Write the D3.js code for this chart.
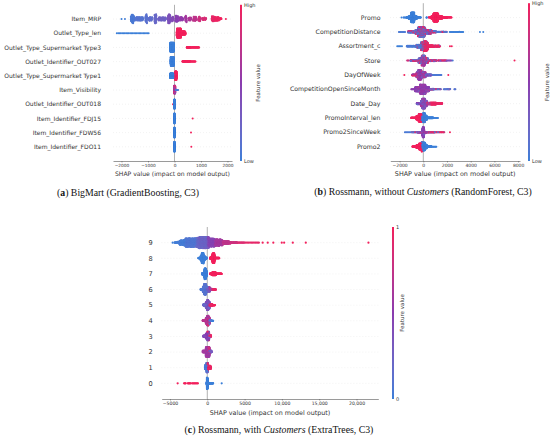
<!DOCTYPE html>
<html><head><meta charset="utf-8">
<script src="https://cdn.jsdelivr.net/npm/d3@7"></script>
<style>body{margin:0;background:#fff}svg{display:block}</style>
</head><body>
<svg id="chart" width="550" height="438"></svg>
<script>
// ---------------- DATA ----------------
// Each feature row: list of segments [fromShap, toShap, numberOfPoints, featureValue(0..1)]
const bigmartFeatures = ["Item_MRP","Outlet_Type_len","Outlet_Type_Supermarket Type3","Outlet_Identifier_OUT027",
  "Outlet_Type_Supermarket Type1","Item_Visibility","Outlet_Identifier_OUT018","Item_Identifier_FDJ15",
  "Item_Identifier_FDW56","Item_Identifier_FDO11"];
const bigmartSegments = [
  [[-2000,-2000,1,0],[-1870,-1870,1,0.02],[-1650,-1520,60,0.05],[-1480,-1180,60,0.1],[-1100,-1030,35,0.12],
   [-980,-840,30,0.15],[-760,-680,40,0.2],[-620,-320,55,0.25],[-260,-140,60,0.36],[-110,-40,18,0.42],
   [30,140,40,0.48],[180,330,30,0.53],[400,460,25,0.6],[520,640,22,0.65],[700,840,36,0.72],[900,990,25,0.8],
   [1040,1200,22,0.85],[1400,1500,30,0.93],[1500,1700,45,0.97],[1720,1780,6,1],[1940,1940,1,1]],
  [[-2200,-950,25,0],[80,250,200,1],[250,420,80,1]],
  [[-170,-20,300,0],[460,600,35,1],[600,935,35,1]],
  [[-150,-20,300,0],[295,600,55,1],[600,800,15,1]],
  [[-170,-40,250,0],[20,80,200,1]],
  [[-20,30,150,0.9],[-20,30,150,0.45],[45,120,30,0.05]],
  [[-57,-57,1,1],[-5,5,200,0]],
  [[-3,3,150,0],[686,686,1,1]],
  [[-3,3,150,0],[623,623,1,1]],
  [[-3,3,150,0],[635,635,1,1]]
];
const bigmartTicks = [-2000,-1000,0,1000,2000];

const rossmannFeatures = ["Promo","CompetitionDistance","Assortment_c","Store","DayOfWeek",
  "CompetitionOpenSinceMonth","Date_Day","PromoInterval_len","Promo2SinceWeek","Promo2"];
const rossmannSegments = [
  [[-1840,-1840,1,0],[-1700,-1550,3,0],[-1450,-1250,25,0],[-1250,-550,250,0],[-1050,-750,250,0],[-550,-200,20,0],
   [260,300,3,0],[430,650,8,1],[650,1600,300,1],[850,1250,280,1],[1600,2000,50,1],[2000,2400,15,1]],
  [[-2100,-1500,8,0.05],[-1300,-700,50,0.1],[-1300,-700,25,0.85],[-700,700,220,0.08],[-700,700,160,0.9],
   [-700,700,70,0.5],[-450,150,200,0.12],[-450,150,100,0.9],[700,1100,30,0.08],[700,1100,15,0.9],
   [1150,2000,25,0.05],[1300,2000,8,0.95],[2200,3400,18,0],[4780,4780,1,0],[5060,5060,1,0]],
  [[-2250,-1750,5,0],[-1400,-600,60,0.05],[-600,0,150,0.05],[-600,0,30,0.9],[-200,400,250,0.95],
   [-200,400,60,0.1],[0,300,100,0.95],[0,800,150,0.95],[800,1400,60,0.95],[800,1400,8,0.1],
   [2250,2250,1,1],[2400,2400,1,1]],
  [[-1400,-1200,3,0.8],[-1100,-400,40,0.2],[-1100,-400,30,0.85],[-400,400,150,0.1],[-400,400,160,0.9],
   [-400,400,70,0.5],[-150,150,150,0.6],[400,1100,45,0.3],[400,1100,35,0.9],[1200,2400,18,0.4],
   [1200,2000,12,0.95],[2480,2480,1,0.05],[7700,7700,1,1]],
  [[-1600,-1600,1,1],[-950,-600,25,0.9],[-950,-600,15,0.5],[-600,200,200,0.55],[-600,200,120,0.75],
   [-600,200,100,0.3],[-450,-150,150,0.5],[200,700,50,0.2],[200,700,15,0.5],[700,1550,18,0.05],[2110,2110,1,1]],
  [[-1040,-700,8,0.5],[-700,500,250,0.5],[-700,500,120,0.65],[-700,500,80,0.3],[-300,200,200,0.55],
   [500,900,25,0.2],[500,900,10,0.8],[900,1500,14,0.1],[1000,1500,5,0.85],[1700,2300,12,0.1],
   [2000,2300,3,0.8],[2600,2730,3,0.1]],
  [[-560,-200,50,0.5],[-560,-200,25,0.2],[-200,300,250,0.3],[-200,300,150,0.6],[-100,150,150,0.4],
   [300,600,50,0.8],[300,600,25,0.3],[600,1100,150,0.95],[1100,1600,60,0.95]],
  [[-1040,-600,30,1],[-600,-120,200,1],[-400,-150,120,0.95],[-140,300,220,0],[-50,150,100,0.05],
   [300,840,60,0],[900,1270,6,0]],
  [[-1600,-1000,7,0.05],[-1000,-500,12,0.1],[-1000,-500,4,0.85],[-500,-100,25,0.3],[-500,-100,12,0.7],
   [-80,80,200,0.5],[-80,80,80,0.3],[100,300,25,0.6],[300,1000,28,0.9],[300,1000,14,0.1],
   [1000,1800,14,0.95],[1000,1800,5,0.1],[2250,2250,1,1]],
  [[-930,-600,25,1],[-600,-100,180,1],[-350,-100,100,1],[-140,300,220,0],[-50,150,100,0],
   [300,700,50,0],[700,1130,8,0]]
];
const rossmannTicks = [-2000,0,2000,4000,6000,8000];

const customersFeatures = ["9","8","7","6","5","4","3","2","1","0"];
const customersSegments = [
  [[-4640,-4640,1,0],[-4400,-3800,15,0.02],[-3800,-3000,150,0.03],[-3000,-1500,550,0.08],[-1500,0,550,0.2],
   [-1200,200,175,0.3],[0,1000,350,0.45],[1000,2000,275,0.6],[2000,3000,125,0.72],[3000,4000,35,0.8],
   [4000,5000,12,0.88],[5000,7000,12,0.93],[7420,7420,1,1],[8100,8100,1,1],[8850,8850,1,1],[9980,9980,1,1],
   [10300,10300,1,1],[11460,11460,1,1],[13200,13200,1,1],[21600,21600,1,1]],
  [[-1210,-900,15,0],[-900,-350,200,0],[-750,-500,100,0],[-350,-80,30,0],
   [360,600,30,1],[600,1050,180,1],[700,950,90,1],[1050,1610,35,1]],
  [[-670,-450,60,0],[-450,-100,300,0],[-350,-200,80,0],[360,650,30,1],[650,1150,180,1],[1150,1930,40,1]],
  [[-890,-600,40,0.05],[-600,0,350,0.1],[-450,-150,150,0.12],[0,360,100,0.3],[130,600,70,0.7],[600,1170,30,0.95]],
  [[-540,-200,50,0.2],[-200,300,250,0.4],[-200,300,100,0.15],[-50,150,80,0.3],[270,700,70,0.95],[700,1030,15,1]],
  [[-620,-200,50,0.7],[-200,300,250,0.65],[-200,300,120,0.9],[-50,150,80,0.6],[100,500,50,0.1],[500,800,10,0]],
  [[-540,-200,40,0.4],[-200,250,250,0.5],[-100,300,80,0.2],[0,500,100,0.95]],
  [[-620,-200,50,0.6],[-200,300,250,0.55],[-200,300,100,0.85],[300,590,35,0.3]],
  [[-310,0,150,0.05],[-100,100,120,0.2],[0,450,180,0.95]],
  [[-3970,-3970,1,1],[-3150,-2850,4,1],[-2650,-2200,6,1],[-2100,-1200,9,1],[-60,60,300,0],
   [60,300,50,0],[300,800,20,0],[1930,1930,1,0]]
];
const customersTicks = [-5000,0,5000,10000,15000,20000];

// ---------------- DRAWING ----------------
const svg = d3.select("#chart");
const SANS = "'DejaVu Sans', sans-serif";
const SERIF = "'Liberation Serif', 'DejaVu Serif', serif";
const AX = "#333333";

const shapColor = d3.piecewise(d3.interpolateLab, ["#3b7fd8", "#8a3caf", "#f2205c"]);

const defs = svg.append("defs");
const grad = defs.append("linearGradient").attr("id", "cbgrad")
  .attr("x1", 0).attr("x2", 0).attr("y1", 1).attr("y2", 0);
d3.range(0, 1.0001, 0.05).forEach(t => grad.append("stop").attr("offset", t).attr("stop-color", shapColor(t)));

function rowPoints(segs) {
  const pts = [];
  segs.forEach(([a, b, n, fv]) => {
    for (let i = 0; i < n; i++) pts.push({ v: a + (i + 0.5) * (b - a) / n, fv });
  });
  const mn = d3.min(pts, p => p.v), mx = d3.max(pts, p => p.v);
  pts.forEach((p, i) => {
    p.q = Math.round(100 * (p.v - mn) / (mx - mn + 1e-8));
    p.k = (i * 0.6180339887498949) % 1;
  });
  const order = pts.slice().sort((a, b) => a.q - b.q || a.k - b.k);
  let layer = 0, last = -1;
  order.forEach(p => {
    if (p.q !== last) layer = 0;
    p.l = Math.ceil(layer / 2) * ((layer % 2) * 2 - 1);
    layer++; last = p.q;
  });
  const m = d3.max(pts, p => p.l + 1);
  pts.forEach(p => p.off = p.l * 0.9 * 0.4 / m);
  return order.sort((a, b) => a.k - b.k);
}

function panel(c) {
  const g = svg.append("g");
  const n = c.features.length;
  const x = d3.scaleLinear().domain(c.xDomain).range([c.left, c.right]);
  const y = d3.scaleLinear().domain([-1, n]).range([c.bottom, c.top]);

  c.features.forEach((f, i) => {
    const yy = y(n - 1 - i);
    g.append("line").attr("x1", c.left).attr("x2", c.right).attr("y1", yy).attr("y2", yy)
      .attr("stroke", "#cccccc").attr("stroke-width", 0.5).attr("stroke-dasharray", "0.5 2.5");
  });
  g.append("line").attr("x1", x(0)).attr("x2", x(0)).attr("y1", c.top).attr("y2", c.bottom)
    .attr("stroke", "#a8a8a8").attr("stroke-width", 0.9);

  c.segments.forEach((segs, i) => {
    const pos = n - 1 - i;
    const pts = rowPoints(segs);
    g.append("g").selectAll("circle").data(pts).join("circle")
      .attr("cx", p => x(p.v))
      .attr("cy", p => y(pos + p.off))
      .attr("r", c.r)
      .attr("fill", p => shapColor(p.fv));
  });

  c.features.forEach((f, i) => {
    g.append("text").attr("x", c.labelX).attr("y", y(n - 1 - i)).attr("dy", "0.35em")
      .attr("text-anchor", "end").attr("font-family", SANS).attr("font-size", c.labelSize)
      .attr("fill", AX).text(f);
  });

  const axis = d3.axisBottom(x).tickValues(c.ticks).tickFormat(c.fmt).tickSize(1.5).tickSizeOuter(0).tickPadding(1.3);
  const ag = g.append("g").attr("transform", `translate(0,${c.bottom})`).call(axis);
  ag.select(".domain").attr("stroke", "#555").attr("stroke-width", 0.6);
  ag.selectAll(".tick line").attr("stroke", "#555").attr("stroke-width", 0.5);
  ag.selectAll(".tick text").attr("font-family", SANS).attr("font-size", c.tickSize).attr("fill", AX);
  g.append("text").attr("x", (c.left + c.right) / 2).attr("y", c.titleY).attr("text-anchor", "middle")
    .attr("font-family", SANS).attr("font-size", c.titleSize).attr("fill", AX)
    .text("SHAP value (impact on model output)");

  g.append("rect").attr("x", c.cbX).attr("y", c.top).attr("width", 2).attr("height", c.bottom - c.top)
    .attr("fill", "url(#cbgrad)");
  g.append("text").attr("x", c.cbX + 4).attr("y", c.top).attr("dy", "0.35em")
    .attr("font-family", SANS).attr("font-size", c.cbSize).attr("fill", AX).text(c.cbLabels[0]);
  g.append("text").attr("x", c.cbX + 4).attr("y", c.bottom).attr("dy", "0.35em")
    .attr("font-family", SANS).attr("font-size", c.cbSize).attr("fill", AX).text(c.cbLabels[1]);
  g.append("text").attr("transform", `translate(${c.fvX},${(c.top + c.bottom) / 2}) rotate(-90)`)
    .attr("dy", "0.35em").attr("text-anchor", "middle")
    .attr("font-family", SANS).attr("font-size", c.fvSize).attr("fill", AX).text("Feature value");

  const cap = g.append("text").attr("x", c.capX).attr("y", c.capY).attr("text-anchor", "middle")
    .attr("font-family", SERIF).attr("font-size", c.capSize).attr("fill", "#111");
  c.caption.forEach(([t, style]) => {
    const s = cap.append("tspan").text(t);
    if (style === "b") s.attr("font-weight", "bold");
    if (style === "i") s.attr("font-style", "italic");
  });
}

const minusFmt = v => (v < 0 ? "\u2212" + (-v) : String(v));
const commaFmt = v => (v < 0 ? "\u2212" + (-v) : (v >= 10000 ? d3.format(",")(v) : String(v)));

panel({
  features: bigmartFeatures, segments: bigmartSegments, ticks: bigmartTicks, fmt: minusFmt,
  xDomain: [-2320, 2170], left: 113, right: 232, top: 4.8, bottom: 161,
  labelX: 101, labelSize: 6, tickSize: 4.3, titleSize: 6.1, titleY: 176.3, r: 1.0,
  cbX: 240, cbLabels: ["High", "Low"], cbSize: 5, fvX: 258, fvSize: 5.5,
  capX: 128, capY: 195.5, capSize: 9.8,
  caption: [["(", ""], ["a", "b"], [") BigMart (GradientBoosting, C3)", ""]]
});
panel({
  features: rossmannFeatures, segments: rossmannSegments, ticks: rossmannTicks, fmt: minusFmt,
  xDomain: [-2785, 8160], left: 390.3, right: 520, top: 3.2, bottom: 161,
  labelX: 380.5, labelSize: 6.2, tickSize: 4.5, titleSize: 6.4, titleY: 176, r: 1.0,
  cbX: 528, cbLabels: ["High", "Low"], cbSize: 5, fvX: 547, fvSize: 5.5,
  capX: 423, capY: 195, capSize: 9.8,
  caption: [["(", ""], ["b", "b"], [") Rossmann, without ", ""], ["Customers", "i"], [" (RandomForest, C3)", ""]]
});
panel({
  features: customersFeatures, segments: customersSegments, ticks: customersTicks, fmt: commaFmt,
  xDomain: [-6110, 22920], left: 161.7, right: 378.3, top: 227, bottom: 399,
  labelX: 152.7, labelSize: 6.6, tickSize: 4.6, titleSize: 6.4, titleY: 415.3, r: 1.1,
  cbX: 392, cbLabels: ["1", "0"], cbSize: 5, fvX: 402, fvSize: 5.5,
  capX: 279, capY: 433, capSize: 9.8,
  caption: [["(", ""], ["c", "b"], [") Rossmann, with ", ""], ["Customers", "i"], [" (ExtraTrees, C3)", ""]]
});
</script>
</body></html>
